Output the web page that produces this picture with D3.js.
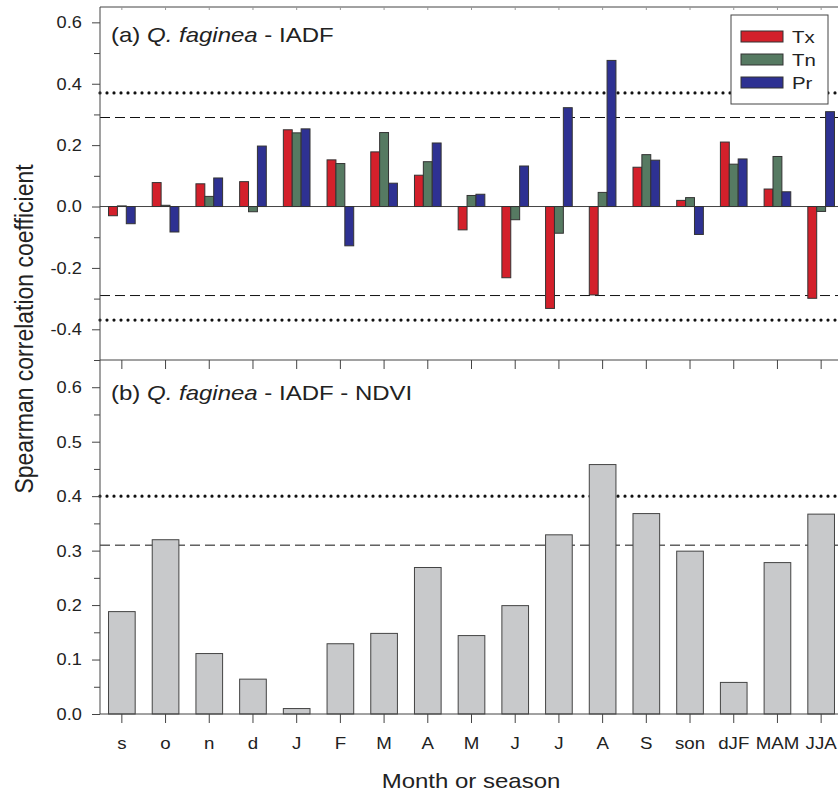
<!DOCTYPE html>
<html>
  <head>
    <meta charset="UTF-8">
    <script src="https://cdn.jsdelivr.net/npm/d3@7/dist/d3.min.js"></script>
    <title>Q. faginea IADF correlations</title>
    <style>
      body { margin: 0; background: #fff; }
      text { font-family: "Liberation Sans", Arial, sans-serif; fill: #222; }
    </style>
  </head>
  <body>
    <svg id="chart" width="838" height="796"></svg>
  <script>
      // month / season labels (keys must be unique for the band scale)
      var categories = ["s","o","n","d","J","F","M","A","M ","J ","J  ","A ","S","son","dJF","MAM","JJA"];
      var tickLabels = ["s","o","n","d","J","F","M","A","M","J","J","A","S","son","dJF","MAM","JJA"];
      var series = ["Tx","Tn","Pr"];
      var seriesColors = ["#d3202b","#567a62","#2e3192"];

      // panel (a) values
      var txValues = [-0.030, 0.078, 0.074, 0.081, 0.250, 0.152, 0.178, 0.102, -0.076, -0.232, -0.332, -0.288, 0.128, 0.020, 0.210, 0.057, -0.299];
      var tnValues = [0.002, 0.004, 0.033, -0.017, 0.240, 0.140, 0.241, 0.146, 0.036, -0.043, -0.087, 0.046, 0.169, 0.029, 0.138, 0.163, -0.016];
      var prValues = [-0.056, -0.083, 0.093, 0.197, 0.253, -0.128, 0.076, 0.207, 0.040, 0.132, 0.322, 0.476, 0.151, -0.091, 0.155, 0.048, 0.309];
      // panel (b) values
      var ndviValues = [0.188, 0.320, 0.111, 0.064, 0.010, 0.129, 0.148, 0.269, 0.144, 0.199, 0.329, 0.458, 0.368, 0.299, 0.058, 0.278, 0.367];

      var limitsA = [0.29, 0.37, -0.29, -0.37];
      var limitsB = [0.31, 0.40];
      var yTicksA = [-0.4, -0.2, 0.0, 0.2, 0.4, 0.6];
      var yMinorA = [-0.5, -0.3, -0.1, 0.1, 0.3, 0.5];
      var yTicksB = [0.0, 0.1, 0.2, 0.3, 0.4, 0.5, 0.6];
      var yMinorB = [0.05, 0.15, 0.25, 0.35, 0.45, 0.55];

      var svg = d3.select("#chart");
      var left = 100, right = 843;
      var axisColor = "#444";
      var stretch = 1.2;   // the lettering of the original is a bit wide

      var x = d3.scaleBand().domain(categories).range([left, right]).paddingInner(0.39).paddingOuter(0.195);
      var xSub = d3.scaleBand().domain(series).range([0, x.bandwidth()]);
      var yA = d3.scaleLinear().domain([-0.5, 0.65]).range([360, 7]);
      var yB = d3.scaleLinear().domain([0, 0.65]).range([714, 360]);
      var fmt = function(d){ return d.toFixed(1); };

      function wideText(px, py, size, anchor){
        return svg.append("text")
          .attr("transform", "translate(" + px + "," + py + ") scale(" + stretch + ",1)")
          .attr("font-size", size)
          .attr("text-anchor", anchor || "start");
      }

      function refLine(y, v, dotted){
        svg.append("line")
          .attr("x1", left).attr("x2", right)
          .attr("y1", y(v)).attr("y2", y(v))
          .attr("stroke", "#111")
          .attr("stroke-width", dotted ? 3.2 : 1)
          .attr("stroke-linecap", dotted ? "round" : "butt")
          .attr("stroke-dasharray", dotted ? "0,7" : "10,5");
      }

      function yAxis(y, major, minor){
        var g = svg.append("g").attr("transform", "translate(" + left + ",0)");
        g.call(d3.axisLeft(y).tickValues(major).tickSize(8).tickPadding(9).tickFormat(fmt));
        g.select(".domain").remove();
        var g2 = svg.append("g").attr("transform", "translate(" + left + ",0)");
        g2.call(d3.axisLeft(y).tickValues(minor).tickSize(6).tickFormat(""));
        g2.select(".domain").remove();
        [g, g2].forEach(function(s){
          s.selectAll("line").attr("stroke", axisColor);
          s.selectAll("text").attr("font-size", 17).attr("fill", "#222")
            .attr("transform", "scale(1.07,1)")
            .style("font-family", "Liberation Sans, Arial, sans-serif");
        });
      }

      // ----- panel (a) -----
      limitsA.forEach(function(v){ refLine(yA, v, Math.abs(v) > 0.3); });

      svg.append("line")
        .attr("x1", left).attr("x2", right)
        .attr("y1", yA(0)).attr("y2", yA(0))
        .attr("stroke", axisColor);

      var rowsA = categories.map(function(c, i){
        return {cat: c, vals: [txValues[i], tnValues[i], prValues[i]]};
      });
      var groups = svg.append("g").selectAll("g").data(rowsA).enter().append("g")
        .attr("transform", function(d){ return "translate(" + x(d.cat) + ",0)"; });
      groups.selectAll("rect")
        .data(function(d){ return d.vals.map(function(v, j){ return {s: series[j], v: v, c: seriesColors[j]}; }); })
        .enter().append("rect")
        .attr("x", function(d){ return xSub(d.s); })
        .attr("width", xSub.bandwidth())
        .attr("y", function(d){ return yA(Math.max(0, d.v)); })
        .attr("height", function(d){ return Math.abs(yA(d.v) - yA(0)); })
        .attr("fill", function(d){ return d.c; })
        .attr("stroke", "#333")
        .attr("stroke-width", 1);

      yAxis(yA, yTicksA, yMinorA);

      // top frame + small ticks
      svg.append("line").attr("x1", left).attr("x2", right).attr("y1", 7).attr("y2", 7).attr("stroke", axisColor);
      svg.append("g").selectAll("line").data(categories).enter().append("line")
        .attr("x1", function(d){ return x(d) + x.bandwidth() / 2; })
        .attr("x2", function(d){ return x(d) + x.bandwidth() / 2; })
        .attr("y1", 7).attr("y2", 10).attr("stroke", "#999");

      wideText(111, 42, 20)
        .html('(a) <tspan font-style="italic">Q. faginea</tspan> - IADF');

      // legend
      var lg = svg.append("g").attr("transform", "translate(731,15)");
      lg.append("rect").attr("width", 97).attr("height", 89).attr("fill", "#fff").attr("stroke", axisColor);
      series.forEach(function(s, i){
        lg.append("rect").attr("x", 10).attr("y", 16 + i * 23).attr("width", 42).attr("height", 11)
          .attr("fill", seriesColors[i]).attr("stroke", "#333");
        lg.append("text")
          .attr("transform", "translate(61," + (28 + i * 23) + ") scale(" + stretch + ",1)")
          .attr("font-size", 17).text(s);
      });

      // ----- panel (b) -----
      limitsB.forEach(function(v){ refLine(yB, v, v > 0.35); });

      svg.append("g").selectAll("rect").data(ndviValues).enter().append("rect")
        .attr("x", function(d, i){ return x(categories[i]); })
        .attr("width", x.bandwidth())
        .attr("y", function(d){ return yB(d); })
        .attr("height", function(d){ return yB(0) - yB(d); })
        .attr("fill", "#c8c9cb")
        .attr("stroke", "#444")
        .attr("stroke-width", 1);

      yAxis(yB, yTicksB, yMinorB);

      // separating frame with ticks pointing into panel (b)
      svg.append("line").attr("x1", left).attr("x2", right).attr("y1", 360).attr("y2", 360).attr("stroke", axisColor);
      svg.append("g").selectAll("line").data(categories).enter().append("line")
        .attr("x1", function(d){ return x(d) + x.bandwidth() / 2; })
        .attr("x2", function(d){ return x(d) + x.bandwidth() / 2; })
        .attr("y1", 360).attr("y2", 369).attr("stroke", axisColor);

      var xAxis = svg.append("g").attr("transform", "translate(0," + yB(0) + ")")
        .call(d3.axisBottom(x).tickSize(9).tickPadding(14)
          .tickFormat(function(d, i){ return tickLabels[i]; }));
      xAxis.select(".domain").attr("stroke", axisColor).attr("d", "M" + left + ",0H" + right);
      xAxis.selectAll("line").attr("stroke", axisColor);
      xAxis.selectAll("text").attr("font-size", 17).attr("fill", "#222")
        .attr("transform", "scale(1.1,1)")
        .style("font-family", "Liberation Sans, Arial, sans-serif");

      // left axis line spanning both panels
      svg.append("line").attr("x1", left).attr("x2", left).attr("y1", 7).attr("y2", 714).attr("stroke", axisColor);

      wideText(111, 400, 20)
        .html('(b) <tspan font-style="italic">Q. faginea</tspan> - IADF - NDVI');

      // axis titles
      svg.append("text").attr("transform", "translate(33,329) rotate(-90) scale(1,1.15)")
        .attr("text-anchor", "middle").attr("font-size", 23)
        .text("Spearman correlation coefficient");
      wideText(471, 788, 20, "middle")
        .text("Month or season");
  </script>
  </body>
</html>
